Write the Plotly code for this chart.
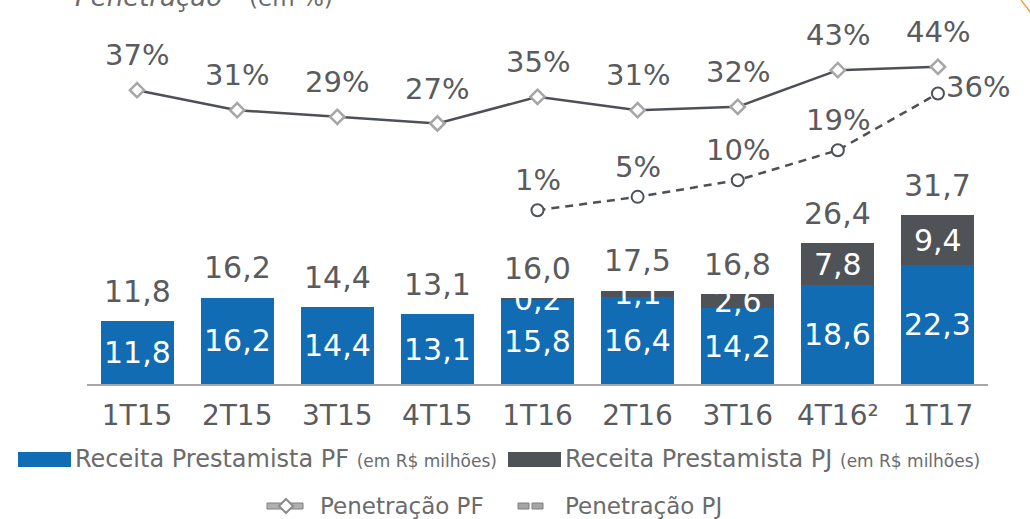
import plotly.graph_objects as go

# ---------------- data ----------------
categories = ["1T15", "2T15", "3T15", "4T15", "1T16", "2T16", "3T16", "4T16²", "1T17"]
receita_pf = [11.8, 16.2, 14.4, 13.1, 15.8, 16.4, 14.2, 18.6, 22.3]
receita_pj = [None, None, None, None, 0.2, 1.1, 2.6, 7.8, 9.4]
receita_total = [11.8, 16.2, 14.4, 13.1, 16.0, 17.5, 16.8, 26.4, 31.7]
penetracao_pf = [37, 31, 29, 27, 35, 31, 32, 43, 44]
penetracao_pj = [None, None, None, None, 1, 5, 10, 19, 36]

# ---------------- style ----------------
W, H = 1030, 519
BLUE = "#116cb3"
DARK = "#4f5358"
TXT = "#595b5e"
LEG_TXT = "#6b6b6b"
FONT = "DejaVu Sans, Verdana, sans-serif"


def px(x):
    return x / W


def py(y):
    return 1 - y / H


def fmt(v):
    return f"{v:.1f}".replace(".", ",")


fig = go.Figure()

fig.add_trace(go.Bar(x=categories, y=receita_pf, marker=dict(color=BLUE, line=dict(width=0)),
                     width=0.73, name="Receita Prestamista PF", showlegend=False))
fig.add_trace(go.Bar(x=categories, y=receita_pj, marker=dict(color=DARK, line=dict(width=0)),
                     width=0.73, name="Receita Prestamista PJ", showlegend=False))

fig.add_trace(go.Scatter(x=categories, y=penetracao_pf, yaxis="y2", mode="lines+markers",
                         line=dict(color="#4d5156", width=2.5),
                         marker=dict(symbol="diamond", size=11, color="white",
                                     line=dict(color="#a6a6a6", width=2.5)),
                         name="Penetração PF", showlegend=False))
fig.add_trace(go.Scatter(x=categories, y=penetracao_pj, yaxis="y2", mode="lines+markers",
                         line=dict(color="#4d5156", width=2.5, dash="8px,6px"),
                         marker=dict(symbol="circle", size=12, color="white",
                                     line=dict(color="#4d5156", width=2)),
                         name="Penetração PJ", showlegend=False))

ann = []
# inside labels
for c, a, b in zip(categories, receita_pf, receita_pj):
    ann.append(dict(x=c, y=a / 2, xref="x", yref="y", text=fmt(a), showarrow=False,
                    font=dict(family=FONT, size=30, color="white")))
    if b is not None:
        ann.append(dict(x=c, y=a + b / 2, xref="x", yref="y", text=fmt(b), showarrow=False,
                        font=dict(family=FONT, size=30, color="white")))
# totals
for c, t in zip(categories, receita_total):
    ann.append(dict(x=c, y=t, xref="x", yref="y", text=fmt(t), showarrow=False, yshift=30,
                    font=dict(family=FONT, size=30, color=TXT)))
# penetration labels
for c, v in zip(categories, penetracao_pf):
    ann.append(dict(x=c, y=v, xref="x", yref="y2", text=f"{v}%", showarrow=False, yshift=35,
                    font=dict(family=FONT, size=29, color=TXT)))
last = max(i for i, v in enumerate(penetracao_pj) if v is not None)
for i, (c, v) in enumerate(zip(categories, penetracao_pj)):
    if v is None:
        continue
    if i == last:
        ann.append(dict(x=c, y=v, xref="x", yref="y2", text=f"{v}%", showarrow=False,
                        xshift=40, yshift=6, font=dict(family=FONT, size=29, color=TXT)))
    else:
        ann.append(dict(x=c, y=v, xref="x", yref="y2", text=f"{v}%", showarrow=False, yshift=30,
                        font=dict(family=FONT, size=29, color=TXT)))

# title (cut off at top)
ann.append(dict(x=px(73), y=py(14), xref="paper", yref="paper", xanchor="left", yanchor="bottom",
                text="<i>Penetração²</i>  <span style='font-size:23px'>(em %)</span>",
                showarrow=False, font=dict(family=FONT, size=26, color=LEG_TXT)))

# legend texts
sub = "<span style='font-size:17px'>(em R$ milhões)</span>"
ann.append(dict(x=px(73), y=py(459), xref="paper", yref="paper", xanchor="left", yanchor="middle",
                text="Receita Prestamista PF " + sub, showarrow=False,
                font=dict(family=FONT, size=24, color=LEG_TXT)))
ann.append(dict(x=px(563), y=py(459), xref="paper", yref="paper", xanchor="left", yanchor="middle",
                text="Receita Prestamista PJ " + sub, showarrow=False,
                font=dict(family=FONT, size=24, color=LEG_TXT)))
ann.append(dict(x=px(318), y=py(506), xref="paper", yref="paper", xanchor="left", yanchor="middle",
                text="Penetração PF", showarrow=False,
                font=dict(family=FONT, size=23, color=LEG_TXT)))
ann.append(dict(x=px(563), y=py(506), xref="paper", yref="paper", xanchor="left", yanchor="middle",
                text="Penetração PJ", showarrow=False,
                font=dict(family=FONT, size=23, color=LEG_TXT)))

shapes = []
shapes.append(dict(type="rect", xref="paper", yref="paper", x0=px(18), x1=px(71), y0=py(452), y1=py(467),
                   fillcolor=BLUE, line=dict(width=0)))
shapes.append(dict(type="rect", xref="paper", yref="paper", x0=px(508), x1=px(561), y0=py(452), y1=py(467),
                   fillcolor=DARK, line=dict(width=0)))
shapes.append(dict(type="rect", xref="paper", yref="paper", x0=px(267), x1=px(303), y0=py(503), y1=py(509),
                   fillcolor="#b0b0b0", line=dict(color="#7f7f7f", width=1)))
cx, cy, r = 286, 506, 7
shapes.append(dict(type="path", xref="paper", yref="paper",
                   path=f"M {px(cx - r)},{py(cy)} L {px(cx)},{py(cy - r)} L {px(cx + r)},{py(cy)} L {px(cx)},{py(cy + r)} Z",
                   fillcolor="white", line=dict(color="#8c8c8c", width=2)))
for x0, x1 in [(518, 529), (532, 543)]:
    shapes.append(dict(type="rect", xref="paper", yref="paper", x0=px(x0), x1=px(x1), y0=py(503), y1=py(509),
                       fillcolor="#a6a6a6", line=dict(color="#7f7f7f", width=1)))
# orange decoration at top-right
shapes.append(dict(type="line", xref="paper", yref="paper", x0=px(1021), y0=py(0), x1=px(1031), y1=py(13),
                   line=dict(color="#f5a04a", width=1.5)))

base_y = 384
y_dom0 = py(base_y)
bar_scale = 5.33
y2_top = 27 + 123.5 / 3.335
y2_bot = 27 - (base_y - 123.5) / 3.335

fig.update_layout(
    width=W, height=H,
    margin=dict(l=0, r=0, t=0, b=0),
    paper_bgcolor="white", plot_bgcolor="white",
    barmode="stack", bargap=0.27,
    showlegend=False,
    font=dict(family=FONT, color=TXT),
    xaxis=dict(domain=[px(87), px(988)], type="category", range=[-0.5, 8.5],
               showline=True, linecolor="#a6a6a6", linewidth=2, showgrid=False, zeroline=False,
               ticks="outside", ticklen=5, tickcolor="rgba(0,0,0,0)",
               tickfont=dict(family=FONT, size=28, color=TXT)),
    yaxis=dict(domain=[y_dom0, 1], range=[0, base_y / bar_scale], visible=False, showgrid=False,
               zeroline=False),
    yaxis2=dict(overlaying="y", range=[y2_bot, y2_top], visible=False, showgrid=False, zeroline=False),
    annotations=ann,
    shapes=shapes,
)

fig.write_html("out.html", config={"displayModeBar": False},
               post_script="document.body.style.margin='0px';document.body.style.overflow='hidden';")
